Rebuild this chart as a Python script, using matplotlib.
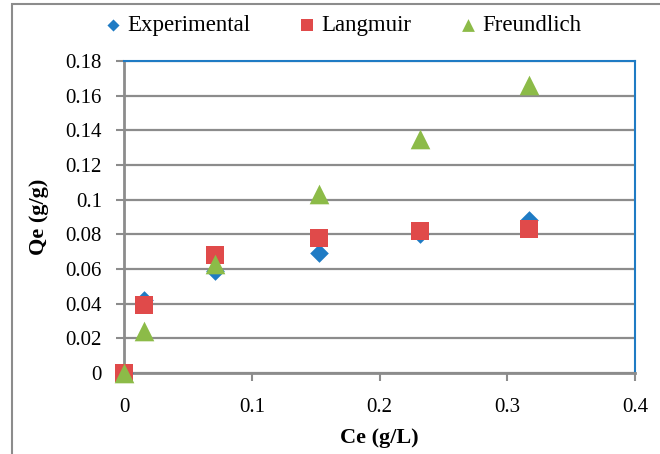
import matplotlib.pyplot as plt
from matplotlib.patches import Rectangle

# --- data ---
ce = [0.0, 0.0157, 0.0712, 0.1526, 0.2317, 0.317]
qe_exp = [0.0, 0.042, 0.059, 0.069, 0.080, 0.088]
qe_lang = [0.0, 0.039, 0.068, 0.078, 0.082, 0.083]
qe_freu = [0.0, 0.024, 0.063, 0.103, 0.135, 0.166]

x_ticks = [0, 0.1, 0.2, 0.3, 0.4]
x_tick_labels = ['0', '0.1', '0.2', '0.3', '0.4']
y_ticks = [0, 0.02, 0.04, 0.06, 0.08, 0.1, 0.12, 0.14, 0.16, 0.18]
y_tick_labels = ['0', '0.02', '0.04', '0.06', '0.08', '0.1', '0.12', '0.14', '0.16', '0.18']

BLUE = '#1f7bc4'
RED = '#e04a4a'
GREEN = '#8cbb48'
GRID = '#8c8c8c'

plt.rcParams['font.family'] = ['Liberation Serif', 'DejaVu Serif']

W, H = 660, 454
fig = plt.figure(figsize=(W / 100, H / 100), dpi=100)
ax = fig.add_axes([124 / W, 1 - 373 / H, (635 - 124) / W, (373 - 61) / H])

ax.scatter(ce, qe_exp, marker='D', s=90, color=BLUE, label='Experimental', zorder=3,
           linewidths=0, clip_on=False)
ax.scatter(ce, qe_lang, marker='s', s=180, color=RED, label='Langmuir', zorder=4,
           linewidths=0, clip_on=False)
ax.scatter(ce, qe_freu, marker='^', s=200, color=GREEN, label='Freundlich', zorder=5,
           linewidths=0, clip_on=False)

ax.set_xlim(0, 0.4)
ax.set_ylim(0, 0.18)
ax.set_xticks(x_ticks)
ax.set_xticklabels(x_tick_labels)
ax.set_yticks(y_ticks)
ax.set_yticklabels(y_tick_labels)
ax.tick_params(axis='both', direction='out', length=6, width=1.5, color=GRID, labelsize=15)
ax.tick_params(axis='x', pad=12)
ax.tick_params(axis='y', pad=10)
ax.yaxis.grid(True, color=GRID, linewidth=1.6)
ax.set_axisbelow(True)

for side in ['left', 'bottom']:
    ax.spines[side].set_color(GRID)
    ax.spines[side].set_linewidth(2)
for side in ['top', 'right']:
    ax.spines[side].set_color(BLUE)
    ax.spines[side].set_linewidth(1.5)

ax.set_xlabel('Ce (g/L)', fontsize=16, fontweight='bold', labelpad=8)
ax.set_ylabel('Qe (g/g)', fontsize=16, fontweight='bold', labelpad=12)

leg = fig.legend(loc='center', bbox_to_anchor=(0.52, 1 - 25 / H), ncol=3, frameon=False,
                 fontsize=16.5, handlelength=0.7, handletextpad=0.3, columnspacing=2.1,
                 markerscale=0.65)

# outer chart border
fig.patches.append(Rectangle((12 / W, -0.05), 1.2, 1 - 4 / H + 0.05, transform=fig.transFigure,
                             fill=False, edgecolor='#8c8c8c', linewidth=1.5))

fig.savefig('out.png', dpi=100)
